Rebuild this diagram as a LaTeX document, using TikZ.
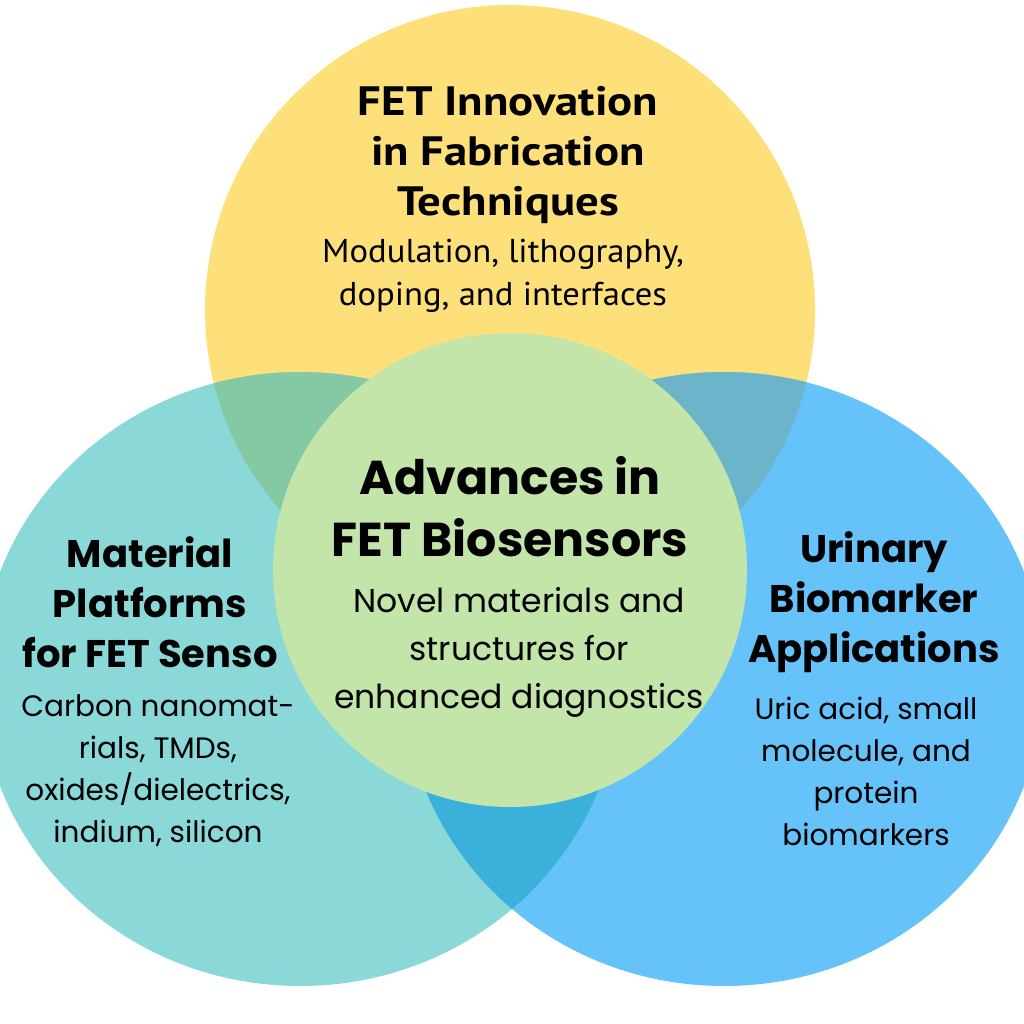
\documentclass[tikz,border=0pt]{standalone}
\usepackage{fontspec}
\setmainfont{Poppins}
\newfontfamily\tophead[FakeStretch=1.14]{PT Sans}
\newfontfamily\topbody[FakeStretch=1.05]{PT Sans}
\definecolor{cyel}{HTML}{FEE07A}
\definecolor{cteal}{HTML}{8AD8D8}
\definecolor{cblue}{HTML}{66C3FA}
\definecolor{cgreen}{HTML}{C3E5A9}
\definecolor{cyt}{HTML}{84C9A3}
\definecolor{cyb}{HTML}{6CB4C9}
\definecolor{ctb}{HTML}{3BB0DA}
\tikzset{
  heading/.style={align=center, inner sep=0pt, font=\bfseries},
  body/.style={align=center, inner sep=0pt},
}
\begin{document}
\begin{tikzpicture}[x=1pt,y=-1pt]
\useasboundingbox (0,0) rectangle (1024,1024);
\coordinate (Y) at (510,310);
\coordinate (T) at (300,679);
\coordinate (B) at (724,679);
\coordinate (G) at (510,570);
\def\yel{(Y) circle[radius=305pt]}
\def\teal{(T) ellipse[x radius=320pt, y radius=307pt]}
\def\blu{(B) ellipse[x radius=320pt, y radius=307pt]}
\fill[cyel] \yel;
\fill[cteal] \teal;
\fill[cblue] \blu;
\begin{scope}
  \clip \yel;
  \fill[cyt] \teal;
  \fill[cyb] \blu;
\end{scope}
\begin{scope}
  \clip \teal;
  \fill[ctb] \blu;
\end{scope}
\fill[cgreen] (G) circle[radius=237pt];

\node[heading, font=\tophead\bfseries\fontsize{41}{50}\selectfont] (th) at (508,155) {FET Innovation\\in Fabrication\\Techniques};
\node[body, font=\topbody\fontsize{33}{43}\selectfont] (tb) at (503,276) {Modulation, lithography,\\doping, and interfaces};

\node[heading, font=\bfseries\fontsize{47.5}{62}\selectfont] (ch) at (510,507) {Advances in\\FET Biosensors};
\node[body, font=\fontsize{33}{48}\selectfont] (cb) at (519,652) {Novel materials and\\structures for\\enhanced diagnostics};

\node[heading, font=\bfseries\fontsize{38.5}{50}\selectfont] (lh) at (150,602) {Material\\Platforms\\for FET Senso};
\node[body, font=\fontsize{29.5}{42}\selectfont] (lb) at (158,771) {Carbon nanomat-\\rials, TMDs,\\oxides/dielectrics,\\indium, silicon};

\node[heading, font=\bfseries\fontsize{38.5}{50}\selectfont] (rh) at (874,602) {Urinary\\Biomarker\\Applications};
\node[body, font=\fontsize{29.5}{42}\selectfont] (rb) at (866,771) {Uric acid, small\\molecule, and\\protein\\biomarkers};
\end{tikzpicture}
\end{document}
